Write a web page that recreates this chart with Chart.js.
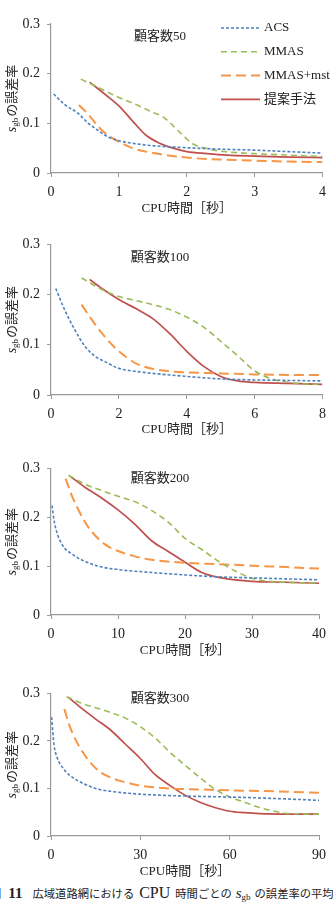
<!DOCTYPE html>
<html>
<head>
<meta charset="utf-8">
<script src="https://cdn.jsdelivr.net/npm/chart.js@4.4.0/dist/chart.umd.min.js"></script>
<style>
body{margin:0;background:#fff;width:333px;height:912px;overflow:hidden;position:relative;
  font-family:"Liberation Serif","Noto Sans CJK JP"}
canvas{position:absolute;left:0}
#caption{position:absolute;left:-10px;top:884px;white-space:nowrap;color:#222;
  font-family:"Liberation Serif","Noto Sans CJK JP";font-size:11.3px;line-height:18px}
#caption .lat{font-size:16px}
#caption b{font-size:15px;margin:0 10px 0 7px}
#caption .s{font-size:15px;font-style:italic;margin-left:4px}
#caption sub{font-size:9px;vertical-align:-2px;margin-right:4px}
#caption .cpu{margin:0 5px 0 5px}
</style>
</head>
<body>
<canvas id="g50" width="333" height="228" style="top:0"></canvas>
<canvas id="g100" width="333" height="225" style="top:228px"></canvas>
<canvas id="g200" width="333" height="225" style="top:453px"></canvas>
<canvas id="g300" width="333" height="205" style="top:678px"></canvas>
<div id="caption"><span>図</span><b>11</b><span>広域道路網における</span><span class="lat cpu">CPU</span><span>時間ごとの</span><span class="s">s</span><sub>gb</sub><span>の誤差率の平均</span></div>
<script>
// series names
const seriesNames = ['ACS', 'MMAS', 'MMAS+mst', '提案手法'];

// 顧客数50
const acs50X = [0.04, 0.2, 0.4, 0.55, 0.7, 0.85, 1.0, 1.25, 1.5, 2, 2.5, 3, 3.5, 4];
const acs50Y = [0.159, 0.138, 0.12, 0.1, 0.085, 0.072, 0.065, 0.059, 0.055, 0.051, 0.048, 0.046, 0.043, 0.04];
const mmas50X = [0.44, 0.7, 1.0, 1.3, 1.5, 1.65, 1.8, 1.95, 2.1, 2.3, 2.5, 3, 3.5, 4];
const mmas50Y = [0.189, 0.172, 0.152, 0.135, 0.122, 0.113, 0.095, 0.075, 0.058, 0.049, 0.044, 0.039, 0.036, 0.033];
const mst50X = [0.41, 0.55, 0.7, 0.85, 1.0, 1.2, 1.4, 1.7, 2, 2.5, 3, 3.5, 4];
const mst50Y = [0.137, 0.118, 0.093, 0.075, 0.063, 0.05, 0.043, 0.036, 0.031, 0.027, 0.025, 0.023, 0.022];
const prop50X = [0.57, 0.8, 1.0, 1.2, 1.4, 1.6, 1.8, 2.0, 2.3, 2.6, 3, 3.5, 4];
const prop50Y = [0.183, 0.158, 0.135, 0.105, 0.076, 0.06, 0.05, 0.043, 0.039, 0.036, 0.034, 0.032, 0.031];

// 顧客数100
const acs100X = [0.14, 0.4, 0.7, 1.0, 1.3, 1.6, 2, 2.5, 3, 4, 5, 6, 7, 8];
const acs100Y = [0.212, 0.17, 0.13, 0.097, 0.077, 0.066, 0.053, 0.047, 0.043, 0.037, 0.032, 0.03, 0.029, 0.028];
const mmas100X = [0.9, 1.5, 2, 2.5, 3, 3.5, 4, 4.5, 5, 5.5, 6, 6.5, 7, 7.5, 8];
const mmas100Y = [0.233, 0.21, 0.196, 0.188, 0.18, 0.17, 0.155, 0.135, 0.107, 0.078, 0.048, 0.032, 0.025, 0.022, 0.021];
const mst100X = [0.9, 1.2, 1.5, 1.8, 2, 2.5, 3, 3.5, 4, 5, 6, 7, 8];
const mst100Y = [0.18, 0.15, 0.123, 0.1, 0.087, 0.063, 0.052, 0.047, 0.045, 0.043, 0.041, 0.04, 0.04];
const prop100X = [1.14, 1.5, 2, 2.5, 3, 3.5, 4, 4.5, 5, 5.5, 6, 7, 8];
const prop100Y = [0.23, 0.212, 0.19, 0.172, 0.152, 0.122, 0.087, 0.057, 0.037, 0.028, 0.025, 0.023, 0.021];

// 顧客数200
const acs200X = [0.15, 0.5, 1, 1.5, 2, 3, 4, 5, 7, 10, 15, 20, 25, 30, 35, 40];
const acs200Y = [0.224, 0.19, 0.164, 0.148, 0.137, 0.126, 0.117, 0.11, 0.1, 0.093, 0.087, 0.082, 0.078, 0.076, 0.074, 0.072];
const mmas200X = [2.6, 5, 7.5, 10, 12.5, 15, 17.5, 20, 22.5, 25, 27.5, 30, 32.5, 35, 40];
const mmas200Y = [0.286, 0.268, 0.255, 0.243, 0.232, 0.214, 0.19, 0.157, 0.134, 0.11, 0.09, 0.075, 0.069, 0.067, 0.065];
const mst200X = [2.2, 3, 4, 5, 6, 8, 10, 12.5, 15, 20, 25, 30, 35, 40];
const mst200Y = [0.279, 0.248, 0.218, 0.192, 0.172, 0.145, 0.131, 0.12, 0.113, 0.107, 0.104, 0.101, 0.098, 0.095];
const prop200X = [2.95, 5, 7.5, 10, 12.5, 15, 17.5, 20, 22.5, 25, 27.5, 30, 35, 40];
const prop200Y = [0.283, 0.262, 0.24, 0.215, 0.186, 0.152, 0.13, 0.108, 0.087, 0.077, 0.072, 0.069, 0.067, 0.065];

// 顧客数300
const acs300X = [0.2, 1, 2, 4, 6, 10, 15, 20, 30, 45, 60, 75, 90];
const acs300Y = [0.25, 0.193, 0.166, 0.143, 0.129, 0.113, 0.1, 0.094, 0.088, 0.084, 0.082, 0.079, 0.075];
const mmas300X = [5.2, 10, 20, 25, 30, 35, 40, 45, 50, 55, 60, 65, 70, 75, 80, 90];
const mmas300Y = [0.293, 0.28, 0.26, 0.248, 0.23, 0.206, 0.176, 0.149, 0.123, 0.099, 0.082, 0.071, 0.06, 0.052, 0.047, 0.046];
const mst300X = [4.5, 6, 8, 10, 13, 16, 20, 25, 30, 40, 50, 60, 75, 90];
const mst300Y = [0.267, 0.236, 0.206, 0.183, 0.156, 0.137, 0.123, 0.113, 0.106, 0.1, 0.098, 0.096, 0.094, 0.091];
const prop300X = [5.75, 10, 15, 20, 25, 30, 35, 40, 45, 50, 55, 60, 65, 70, 80, 90];
const prop300Y = [0.292, 0.27, 0.246, 0.223, 0.193, 0.163, 0.129, 0.106, 0.086, 0.071, 0.06, 0.052, 0.049, 0.047, 0.046, 0.046];

// axis ticks
const yTicks = [0, 0.1, 0.2, 0.3];
const xMaxes = [4, 8, 40, 90];
const xSteps = [1, 2, 10, 30];
const panelTitles = ['顧客数50', '顧客数100', '顧客数200', '顧客数300'];

const serif = '"Liberation Serif", "Noto Sans CJK JP"';
const lineStyles = [
  {color: '#4F81BD', dash: [3, 2], width: 1.6},
  {color: '#9BBB59', dash: [6, 4], width: 1.6},
  {color: '#F79646', dash: [10, 5], width: 2},
  {color: '#C0504D', dash: [], width: 1.7}
];

function toPoints(xs, ys){
  return xs.map((x, i) => ({x: x, y: ys[i]}));
}

const extras = {
  id: 'extras',
  afterDraw(chart, args, o){
    const ctx = chart.ctx, a = chart.chartArea;
    ctx.save();
    ctx.fillStyle = '#222';
    ctx.textBaseline = 'middle';
    // panel note
    ctx.textAlign = 'center';
    ctx.font = '13px ' + serif;
    ctx.fillText(o.note, o.noteX, o.noteY);
    // legend
    if (o.legend){
      chart.data.datasets.forEach((ds, i) => {
        const y = 28 + i * 23.8;
        ctx.strokeStyle = ds.borderColor;
        ctx.lineWidth = ds.borderWidth;
        ctx.setLineDash(ds.borderDash);
        ctx.beginPath();
        ctx.moveTo(221, y);
        ctx.lineTo(260, y);
        ctx.stroke();
        ctx.setLineDash([]);
        ctx.textAlign = 'left';
        ctx.font = '13px ' + serif;
        ctx.fillText(ds.label, 264, y);
      });
    }
    // y title with subscript
    ctx.translate(13, (a.top + a.bottom) / 2);
    ctx.rotate(-Math.PI / 2);
    ctx.textAlign = 'left';
    const f1 = 'italic 14px ' + serif, f2 = '9px ' + serif, f3 = '13px ' + serif;
    ctx.font = f1; const w1 = ctx.measureText('s').width;
    ctx.font = f2; const w2 = ctx.measureText('gb').width;
    ctx.font = f3; const w3 = ctx.measureText('の誤差率').width;
    let x = -(w1 + w2 + 1 + w3) / 2;
    ctx.font = f1; ctx.fillText('s', x, -1); x += w1;
    ctx.font = f2; ctx.fillText('gb', x, 3); x += w2 + 1;
    ctx.font = f3; ctx.fillText('の誤差率', x, 0);
    ctx.restore();
  }
};

function makeChart(id, sets, p){
  const datasets = sets.map((pts, i) => ({
    label: seriesNames[i],
    data: pts,
    borderColor: lineStyles[i].color,
    borderDash: lineStyles[i].dash,
    borderWidth: lineStyles[i].width,
    pointRadius: 0,
    fill: false,
    cubicInterpolationMode: 'monotone'
  }));
  return new Chart(document.getElementById(id), {
    type: 'line',
    data: {datasets: datasets},
    plugins: [extras],
    options: {
      responsive: false,
      animation: false,
      devicePixelRatio: 1,
      layout: {padding: {top: p.top, right: p.right, left: 0, bottom: 0}},
      plugins: {
        legend: {display: false},
        tooltip: {enabled: false},
        extras: {note: p.note, noteX: 160, noteY: p.noteY, legend: p.legend}
      },
      scales: {
        x: {
          type: 'linear', min: 0, max: p.xMax,
          ticks: {stepSize: p.xStep, font: {family: serif, size: 14}, color: '#222', padding: 7, maxRotation: 0, autoSkip: false},
          grid: {drawOnChartArea: false, drawTicks: true, tickLength: 4, color: '#9a9a9a'},
          border: {color: '#9a9a9a', width: 1.2},
          title: {display: true, text: 'CPU時間［秒］', font: {family: serif, size: 13}, color: '#222', padding: {top: 0, bottom: p.titlePad}},
          afterFit(s){ s.height = p.axisH; }
        },
        y: {
          min: 0, max: 0.3,
          afterBuildTicks(s){ s.ticks = yTicks.map(v => ({value: v})); },
          ticks: {font: {family: serif, size: 14}, color: '#222', padding: 7,
            callback: v => v === 0 ? '0' : v.toFixed(1)},
          grid: {drawOnChartArea: false, drawTicks: true, tickLength: 4, color: '#9a9a9a'},
          border: {color: '#9a9a9a', width: 1.2},
          afterFit(s){ s.width = 51; }
        }
      }
    }
  });
}

function drawAll(){
  makeChart('g50', [toPoints(acs50X, acs50Y), toPoints(mmas50X, mmas50Y), toPoints(mst50X, mst50Y), toPoints(prop50X, prop50Y)],
    {top: 24, right: 8, axisH: 55, titlePad: 11.5, xMax: xMaxes[0], xStep: xSteps[0], note: panelTitles[0], noteY: 37, legend: true});
  makeChart('g100', [toPoints(acs100X, acs100Y), toPoints(mmas100X, mmas100Y), toPoints(mst100X, mst100Y), toPoints(prop100X, prop100Y)],
    {top: 16.3, right: 8, axisH: 58, titlePad: 16, xMax: xMaxes[1], xStep: xSteps[1], note: panelTitles[1], noteY: 30, legend: false});
  makeChart('g200', [toPoints(acs200X, acs200Y), toPoints(mmas200X, mmas200Y), toPoints(mst200X, mst200Y), toPoints(prop200X, prop200Y)],
    {top: 12.7, right: 11, axisH: 63, titlePad: 19.5, xMax: xMaxes[2], xStep: xSteps[2], note: panelTitles[2], noteY: 26, legend: false});
  makeChart('g300', [toPoints(acs300X, acs300Y), toPoints(mmas300X, mmas300Y), toPoints(mst300X, mst300Y), toPoints(prop300X, prop300Y)],
    {top: 8.7, right: 11, axisH: 47, titlePad: 3.5, xMax: xMaxes[3], xStep: xSteps[3], note: panelTitles[3], noteY: 21, legend: false});
}

let done = false;
function start(){ if (!done){ done = true; drawAll(); } }
Promise.all([
  document.fonts.load('14px "Liberation Serif"'),
  document.fonts.load('italic 14px "Liberation Serif"'),
  document.fonts.load('13px "Noto Sans CJK JP"', '顧客数')
]).then(start, start);
setTimeout(start, 1500);
</script>
</body>
</html>
